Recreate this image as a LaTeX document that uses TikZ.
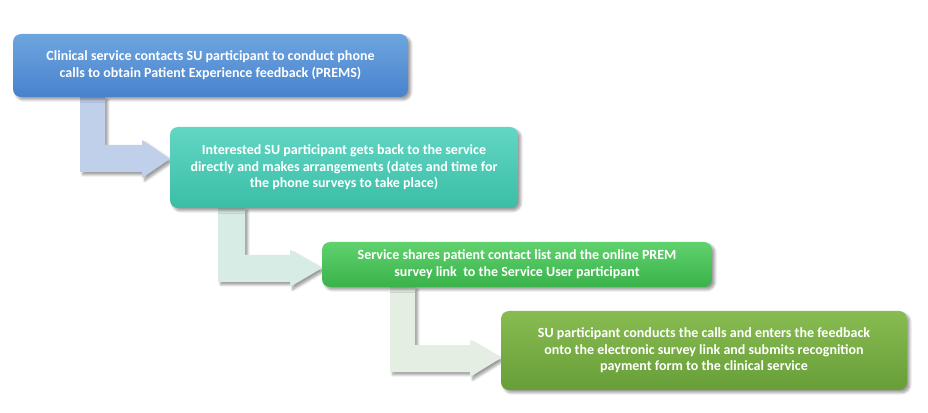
\documentclass[tikz,border=0pt]{standalone}
\usepackage{fontspec}
\setmainfont{Carlito}
\usetikzlibrary{shadows.blur}
\begin{document}
\begin{tikzpicture}[x=0.75pt,y=-0.75pt,
  box/.style={rounded corners=6pt,draw=none,text=white,font=\bfseries\fontsize{10.5}{12.5}\selectfont,align=center,
    blur shadow={shadow xshift=2pt,shadow yshift=-2pt,shadow blur steps=6}},
  barrow/.style={draw=none,blur shadow={shadow xshift=2pt,shadow yshift=-2pt,shadow blur steps=5}}]
\useasboundingbox (0,0) rectangle (928,413);
% arrows
\fill[barrow,fill=blue!20!gray!30!white,fill={rgb,255:red,192;green,208;blue,234}]
 (80,97) -- (105,97) -- (105,145) -- (142,145) -- (142,140) -- (170,159) -- (142,178) -- (142,172) -- (80,172) -- cycle;
\fill[barrow,fill={rgb,255:red,214;green,236;blue,228}]
 (218,208) -- (245,208) -- (245,255) -- (290,255) -- (290,250) -- (322,268) -- (290,287) -- (290,282) -- (218,282) -- cycle;
\fill[barrow,fill={rgb,255:red,228;green,238;blue,226}]
 (390,287) -- (415,287) -- (415,345) -- (470,345) -- (470,340) -- (501,358) -- (470,377) -- (470,372) -- (390,372) -- cycle;
% boxes
\path[box,top color={rgb,255:red,110;green,165;blue,224},bottom color={rgb,255:red,72;green,130;blue,204}]
 (13,34) rectangle (408,97);
\node[text=white,font=\bfseries\fontsize{10.5}{12.5}\selectfont,align=center] (b1) at (210.5,65.5)
 {Clinical service contacts SU participant to conduct phone\\calls to obtain Patient Experience feedback (PREMS)};
\path[box,top color={rgb,255:red,98;green,214;blue,196},bottom color={rgb,255:red,58;green,190;blue,166}]
 (170,127) rectangle (518,208);
\node[text=white,font=\bfseries\fontsize{10.5}{12.5}\selectfont,align=center] (b2) at (344,167.5)
 {Interested SU participant gets back to the service\\directly and makes arrangements (dates and time for\\the phone surveys to take place)};
\path[box,top color={rgb,255:red,96;green,210;blue,110},bottom color={rgb,255:red,58;green,178;blue,74}]
 (322,242) rectangle (712,287);
\node[text=white,font=\bfseries\fontsize{10.5}{12.5}\selectfont,align=center] (b3) at (517,264.5)
 {Service shares patient contact list and the online PREM\\survey link\ \ to the Service User participant};
\path[box,top color={rgb,255:red,136;green,188;blue,82},bottom color={rgb,255:red,104;green,158;blue,56}]
 (501,311) rectangle (907,390);
\node[text=white,font=\bfseries\fontsize{10.5}{12.5}\selectfont,align=center] (b4) at (704,350.5)
 {SU participant conducts the calls and enters the feedback\\onto the electronic survey link and submits recognition\\payment form to the clinical service};
\end{tikzpicture}
\end{document}
